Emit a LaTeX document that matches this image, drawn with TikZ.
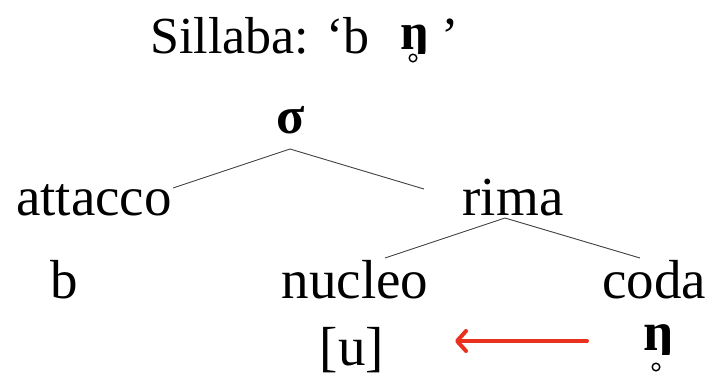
\documentclass[tikz,border=0pt]{standalone}
\usepackage{fontspec}
\setmainfont{Liberation Serif}
\usetikzlibrary{arrows.meta,calc}
\definecolor{arrowred}{RGB}{232,50,30}
\tikzset{
  lbl/.style={inner sep=0pt, anchor=base, font=\fontsize{55}{60}\selectfont},
  ttl/.style={inner sep=0pt, anchor=base west, font=\fontsize{52}{58}\selectfont},
  branch/.style={draw=black!75, line width=0.9pt},
  ring/.style={draw=black, line width=1.4pt},
  redarrow/.style={draw=arrowred, line width=4pt, line cap=round,
    -{Straight Barb[length=9pt,width=20pt,line cap=round,line join=round]}}
}
\begin{document}
\begin{tikzpicture}[x=1pt,y=-1pt]
\useasboundingbox (0,0) rectangle (711,376);
\node[ttl] (title) at (150,53) {Sillaba: ‘b};
\begin{scope}
  \clip (380,0) rectangle (440,53);
  \node[lbl, font=\fontsize{52}{58}\selectfont\bfseries] (titleng) at (415,49) {ŋ};
\end{scope}
\node[ttl] (titleq) at (441,53) {’};
\draw[ring] ($(titleng.base)+(-2,9)$) circle (3.8);
\node[lbl, font=\fontsize{52}{58}\selectfont\bfseries] (sigma) at (291,133) {σ};
\node[lbl] (attacco) at (94,215) {attacco};
\node[lbl] (rima) at (513,215) {rima};
\node[lbl] (b) at (64,298) {b};
\node[lbl] (nucleo) at (355,298) {nucleo};
\node[lbl] (coda) at (654,298) {coda};
\node[lbl] (u) at (352,365) {[u]};
\begin{scope}
  \clip (620,300) rectangle (700,354);
  \node[lbl, font=\fontsize{55}{60}\selectfont\bfseries] (ng) at (659,350) {ŋ};
\end{scope}
\draw[ring] ($(ng.base)+(-3,17)$) circle (3.8);
\coordinate (sigmaTop) at (290,149);
\coordinate (attEnd) at (173,188);
\coordinate (rimaEnd) at (424,189);
\coordinate (rimaTop) at (505,218);
\coordinate (nucEnd) at (385,258);
\coordinate (codaEnd) at (640,258);
\coordinate (arrTail) at (587,341);
\coordinate (arrTip) at (455,341);
\draw[branch] (attEnd) -- (sigmaTop) -- (rimaEnd);
\draw[branch] (nucEnd) -- (rimaTop) -- (codaEnd);
\draw[redarrow] (arrTail) -- (arrTip);
\end{tikzpicture}
\end{document}
